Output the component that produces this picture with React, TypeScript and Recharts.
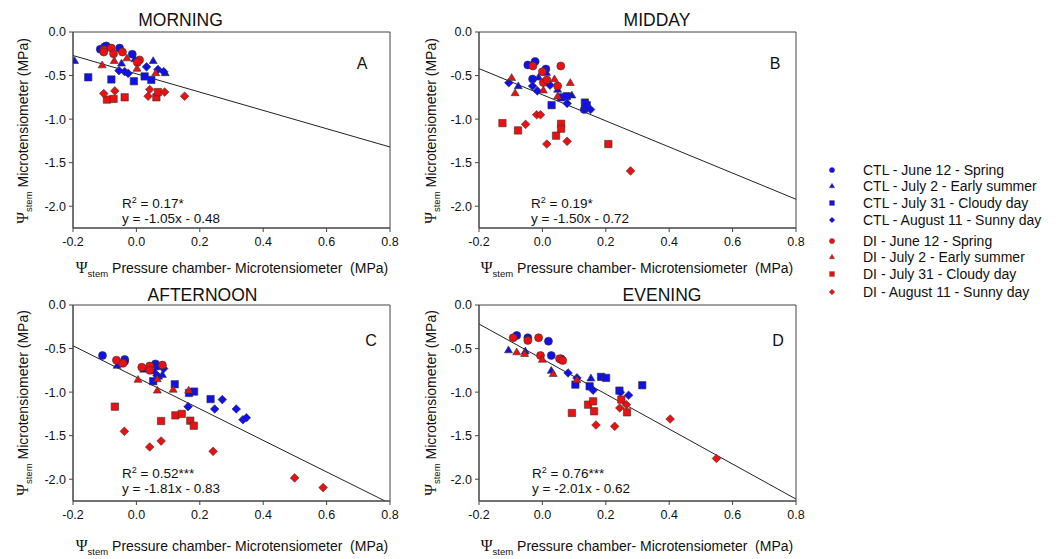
import React from 'react';
import { ScatterChart, Scatter, XAxis, YAxis, ReferenceArea, ReferenceLine } from 'recharts';

type P = [number, number];

// ---------- Series labels ----------
const seriesLabels = [
  'CTL - June 12 - Spring',
  'CTL - July 2 - Early summer',
  'CTL - July 31 - Cloudy day',
  'CTL - August 11 - Sunny day',
  'DI - June 12 - Spring',
  'DI - July 2 - Early summer',
  'DI - July 31 - Cloudy day',
  'DI - August 11 - Sunny day',
];
const seriesShapes = ['circle', 'triangle', 'square', 'diamond', 'circle', 'triangle', 'square', 'diamond'];
const seriesColors = ['#1010ee', '#1010ee', '#1010ee', '#1010ee', '#ee1010', '#ee1010', '#ee1010', '#ee1010'];

// ---------- Axis ticks ----------
const xTicks = [-0.2, 0, 0.2, 0.4, 0.6, 0.8];
const yTicks = [0, -0.5, -1.0, -1.5, -2.0];

// ---------- MORNING (A) ----------
const A_CTL_JUN: P[] = [[-0.114, -0.197], [-0.095, -0.16], [-0.053, -0.185], [-0.013, -0.255], [-0.1, -0.17]];
const A_CTL_JUL2: P[] = [[-0.195, -0.33], [-0.047, -0.36], [0.053, -0.33], [0.091, -0.47], [-0.005, -0.31]];
const A_CTL_JUL31: P[] = [[-0.152, -0.52], [-0.079, -0.545], [-0.008, -0.565], [0.026, -0.51], [0.047, -0.55]];
const A_CTL_AUG: P[] = [[-0.055, -0.444], [-0.037, -0.455], [-0.026, -0.475], [0.032, -0.4], [0.068, -0.43], [0.086, -0.455]];
const A_DI_JUN: P[] = [[-0.103, -0.205], [-0.103, -0.23], [-0.079, -0.185], [-0.072, -0.25], [-0.044, -0.23], [0.01, -0.32], [0.003, -0.35]];
const A_DI_JUL2: P[] = [[-0.108, -0.38], [-0.07, -0.33], [-0.03, -0.3], [0.002, -0.42], [0.061, -0.47]];
const A_DI_JUL31: P[] = [[-0.093, -0.776], [-0.072, -0.768], [-0.037, -0.75], [0.063, -0.75], [0.068, -0.69]];
const A_DI_AUG: P[] = [[-0.103, -0.707], [-0.068, -0.676], [0.037, -0.737], [0.042, -0.66], [0.089, -0.69], [0.152, -0.737]];

// ---------- MIDDAY (B) ----------
const B_CTL_JUN: P[] = [[-0.046, -0.378], [-0.023, -0.34], [-0.031, -0.54], [0.011, -0.425], [0.132, -0.89]];
const B_CTL_JUL2: P[] = [[-0.076, -0.62], [-0.012, -0.52], [0.013, -0.467], [0.048, -0.66], [0.093, -0.726]];
const B_CTL_JUL31: P[] = [[0.029, -0.84], [0.059, -0.75], [0.077, -0.737], [0.134, -0.81], [0.14, -0.84]];
const B_CTL_AUG: P[] = [[-0.106, -0.583], [-0.031, -0.62], [-0.016, -0.676], [0.024, -0.61], [0.078, -0.82], [0.152, -0.89]];
const B_DI_JUN: P[] = [[-0.03, -0.39], [0.0, -0.456], [0.003, -0.58], [0.014, -0.55], [0.048, -0.62], [0.058, -0.39]];
const B_DI_JUL2: P[] = [[-0.097, -0.525], [-0.086, -0.7], [0.003, -0.668], [0.038, -0.54], [0.048, -0.737], [0.088, -0.583]];
const B_DI_JUL31: P[] = [[-0.126, -1.046], [-0.077, -1.13], [0.043, -1.19], [0.059, -1.054], [0.059, -1.11], [0.208, -1.286]];
const B_DI_AUG: P[] = [[-0.053, -1.06], [-0.018, -0.95], [-0.006, -0.95], [0.014, -1.286], [0.078, -1.255], [0.278, -1.595]];

// ---------- AFTERNOON (C) ----------
const C_CTL_JUN: P[] = [[-0.107, -0.58], [-0.037, -0.626], [-0.037, -0.645], [0.06, -0.676], [0.068, -0.7]];
const C_CTL_JUL2: P[] = [[-0.061, -0.695], [0.023, -0.74], [0.058, -0.76], [0.082, -0.8], [0.07, -0.82]];
const C_CTL_JUL31: P[] = [[0.053, -0.875], [0.121, -0.91], [0.166, -1.01], [0.182, -0.994], [0.234, -1.08]];
const C_CTL_AUG: P[] = [[0.086, -0.73], [0.065, -0.81], [0.163, -1.167], [0.247, -1.194], [0.271, -1.086], [0.315, -1.194], [0.336, -1.317], [0.347, -1.294]];
const C_DI_JUN: P[] = [[-0.063, -0.633], [-0.042, -0.67], [0.017, -0.714], [0.042, -0.7], [0.042, -0.75], [0.082, -0.69]];
const C_DI_JUL2: P[] = [[0.005, -0.856], [0.066, -0.98], [0.116, -0.97], [0.165, -0.98], [0.066, -0.85]];
const C_DI_JUL31: P[] = [[-0.068, -1.167], [0.078, -1.332], [0.123, -1.267], [0.143, -1.25], [0.17, -1.328], [0.181, -1.386]];
const C_DI_AUG: P[] = [[-0.038, -1.45], [0.042, -1.63], [0.078, -1.562], [0.242, -1.68], [0.499, -1.985], [0.589, -2.096]];

// ---------- EVENING (D) ----------
const D_CTL_JUN: P[] = [[-0.081, -0.349], [-0.046, -0.376], [0.019, -0.415], [0.028, -0.58], [0.059, -0.618]];
const D_CTL_JUL2: P[] = [[-0.107, -0.518], [-0.054, -0.53], [0.028, -0.752], [0.153, -0.84]];
const D_CTL_JUL31: P[] = [[0.104, -0.914], [0.149, -0.933], [0.185, -0.825], [0.201, -0.837], [0.243, -0.983], [0.315, -0.921]];
const D_CTL_AUG: P[] = [[0.081, -0.78], [0.109, -0.837], [0.16, -0.979], [0.246, -1.002], [0.272, -1.036]];
const D_DI_JUN: P[] = [[-0.092, -0.376], [-0.046, -0.407], [-0.012, -0.376], [-0.006, -0.58], [0.054, -0.618], [0.064, -0.637]];
const D_DI_JUL2: P[] = [[-0.081, -0.541], [-0.056, -0.56], [0.0, -0.626], [0.034, -0.79], [0.109, -0.86]];
const D_DI_JUL31: P[] = [[0.093, -1.24], [0.144, -1.144], [0.16, -1.106], [0.163, -1.22], [0.249, -1.086], [0.267, -1.232]];
const D_DI_AUG: P[] = [[0.169, -1.378], [0.228, -1.393], [0.244, -1.182], [0.265, -1.144], [0.403, -1.309], [0.549, -1.762]];

// ---------- Panels ----------
const panelTitles = ['MORNING', 'MIDDAY', 'AFTERNOON', 'EVENING'];
const panelLetters = ['A', 'B', 'C', 'D'];
const panelR2 = ['0.17*', '0.19*', '0.52***', '0.76***'];
const panelSlopes = [-1.05, -1.5, -1.81, -2.01];
const panelIntercepts = [-0.48, -0.72, -0.83, -0.62];
const panelSeries: P[][][] = [
  [A_CTL_JUN, A_CTL_JUL2, A_CTL_JUL31, A_CTL_AUG, A_DI_JUN, A_DI_JUL2, A_DI_JUL31, A_DI_AUG],
  [B_CTL_JUN, B_CTL_JUL2, B_CTL_JUL31, B_CTL_AUG, B_DI_JUN, B_DI_JUL2, B_DI_JUL31, B_DI_AUG],
  [C_CTL_JUN, C_CTL_JUL2, C_CTL_JUL31, C_CTL_AUG, C_DI_JUN, C_DI_JUL2, C_DI_JUL31, C_DI_AUG],
  [D_CTL_JUN, D_CTL_JUL2, D_CTL_JUL31, D_CTL_AUG, D_DI_JUN, D_DI_JUL2, D_DI_JUL31, D_DI_AUG],
];

const X_MIN = -0.2, X_MAX = 0.8, Y_MIN = -2.25, Y_MAX = 0;

// layout
const CH_W = 400, CH_H = 262;
const panelPos = [
  { left: 0, top: 0 },
  { left: 406, top: 0 },
  { left: 0, top: 273 },
  { left: 406, top: 273 },
];
const MARGIN = { top: 32, right: 10, bottom: 1, left: 0 };
const Y_W = 73, X_H = 33; // plot height = 196

const FONT = '"Liberation Sans", Arial, sans-serif';
const AXIS_COLOR = '#444';

function markerPath(type: string, cx: number, cy: number, s: number) {
  // s = nominal width in px
  const h = s / 2;
  switch (type) {
    case 'square':
      return `M${cx - h * 0.92},${cy - h * 0.92}h${s * 0.92}v${s * 0.92}h${-s * 0.92}Z`;
    case 'triangle': {
      const th = s * 0.85;
      return `M${cx},${cy - th * 0.6}L${cx + h},${cy + th * 0.4}L${cx - h},${cy + th * 0.4}Z`;
    }
    case 'diamond': {
      const d = h * 1.08;
      return `M${cx},${cy - d}L${cx + d},${cy}L${cx},${cy + d}L${cx - d},${cy}Z`;
    }
    default:
      return '';
  }
}

function Marker({ type, cx, cy, s, fill, sw }: { type: string; cx: number; cy: number; s: number; fill: string; sw: number }) {
  if (cx == null || cy == null || isNaN(cx) || isNaN(cy)) return null;
  if (type === 'circle') {
    return <circle cx={cx} cy={cy} r={s / 2} fill={fill} stroke="#333" strokeWidth={sw} />;
  }
  return <path d={markerPath(type, cx, cy, s)} fill={fill} stroke="#333" strokeWidth={sw} strokeLinejoin="miter" />;
}

function regressionSegment(m: number, b: number) {
  let x1 = X_MIN, y1 = m * X_MIN + b;
  let x2 = X_MAX, y2 = m * X_MAX + b;
  if (y2 < Y_MIN) { y2 = Y_MIN; x2 = (Y_MIN - b) / m; }
  if (y1 > Y_MAX) { y1 = Y_MAX; x1 = (Y_MAX - b) / m; }
  return [{ x: x1, y: y1 }, { x: x2, y: y2 }];
}

function Panel({ idx }: { idx: number }) {
  const pos = panelPos[idx];
  const series = panelSeries[idx];
  return (
    <div style={{ position: 'absolute', left: pos.left, top: pos.top }}>
      <ScatterChart width={CH_W} height={CH_H} margin={MARGIN}>
        <XAxis
          type="number"
          dataKey="x"
          domain={[X_MIN, X_MAX]}
          ticks={xTicks}
          tickFormatter={(v: number) => v.toFixed(1)}
          height={X_H}
          allowDataOverflow
          stroke={AXIS_COLOR}
          tickSize={4}
          tickMargin={5}
          tick={{ fill: '#111', fontSize: 12.5, fontFamily: FONT }}
        />
        <YAxis
          type="number"
          dataKey="y"
          domain={[Y_MIN, Y_MAX]}
          ticks={yTicks}
          tickFormatter={(v: number) => v.toFixed(1)}
          width={Y_W}
          allowDataOverflow
          stroke={AXIS_COLOR}
          tickSize={4}
          tickMargin={3}
          tick={{ fill: '#111', fontSize: 12.5, fontFamily: FONT }}
        />
        <ReferenceArea x1={X_MIN} x2={X_MAX} y1={Y_MIN} y2={Y_MAX} fill="none" fillOpacity={0} stroke={AXIS_COLOR} strokeWidth={1} />
        <ReferenceLine
          segment={regressionSegment(panelSlopes[idx], panelIntercepts[idx])}
          stroke="#222"
          strokeWidth={1}
        />
        {series.map((pts, si) => (
          <Scatter
            key={si}
            name={seriesLabels[si]}
            data={pts.map(([x, y]) => ({ x, y }))}
            fill={seriesColors[si]}
            isAnimationActive={false}
            shape={(p: any) => <Marker type={seriesShapes[si]} cx={p.cx} cy={p.cy} s={8} fill={seriesColors[si]} sw={0.6} />}
          />
        ))}
      </ScatterChart>
    </div>
  );
}

// text placement (page coords)
const titlePos = [
  { x: 180.5, y: 26 },
  { x: 657, y: 26 },
  { x: 202.5, y: 301 },
  { x: 662, y: 301 },
];
const letterPos = [
  { x: 362, y: 69 },
  { x: 775, y: 69 },
  { x: 371, y: 346 },
  { x: 778, y: 346 },
];
const statPos = [
  { x: 122, y: 208 },
  { x: 531, y: 208 },
  { x: 122, y: 478 },
  { x: 532, y: 478 },
];
const xLabelPos = [
  { x: 232, y: 273 },
  { x: 637, y: 273 },
  { x: 232, y: 551 },
  { x: 637, y: 551 },
];
const yLabelPos = [
  { x: 28, y: 131 },
  { x: 436, y: 131 },
  { x: 28, y: 403 },
  { x: 436, y: 403 },
];
const legendRowY = [170, 186, 203, 220, 241, 257, 274, 292];

function Overlay() {
  return (
    <svg width={1062} height={559} style={{ position: 'absolute', left: 0, top: 0, pointerEvents: 'none' }} fontFamily={FONT}>
      {panelTitles.map((t, i) => (
        <text key={'t' + i} x={titlePos[i].x} y={titlePos[i].y} textAnchor="middle" fontSize={17.5} fill="#111">{t}</text>
      ))}
      {panelLetters.map((t, i) => (
        <text key={'l' + i} x={letterPos[i].x} y={letterPos[i].y} textAnchor="middle" fontSize={16} fill="#111">{t}</text>
      ))}
      {panelR2.map((r, i) => (
        <g key={'s' + i} fontSize={13.5} fill="#111">
          <text x={statPos[i].x} y={statPos[i].y}>
            R<tspan dy={-5} fontSize={9}>2</tspan><tspan dy={5}>{' = ' + r}</tspan>
          </text>
          <text x={statPos[i].x} y={statPos[i].y + 15}>
            {`y = ${panelSlopes[i].toFixed(2)}x - ${Math.abs(panelIntercepts[i]).toFixed(2)}`}
          </text>
        </g>
      ))}
      {xLabelPos.map((p, i) => (
        <text key={'x' + i} x={p.x} y={p.y} textAnchor="middle" fontSize={14} fill="#111">
          <tspan fontFamily='"Liberation Serif", serif' fontSize={16}>Ψ</tspan>
          <tspan dy={4} fontSize={9.5}>stem</tspan>
          <tspan dy={-4}>{' Pressure chamber- Microtensiometer\u00a0 (MPa)'}</tspan>
        </text>
      ))}
      {yLabelPos.map((p, i) => (
        <text key={'y' + i} x={0} y={0} transform={`translate(${p.x},${p.y}) rotate(-90)`} textAnchor="middle" fontSize={14} fill="#111">
          <tspan fontFamily='"Liberation Serif", serif' fontSize={16}>Ψ</tspan>
          <tspan dy={4} fontSize={9.5}>stem</tspan>
          <tspan dy={-4}>{' Microtensiometer (MPa)'}</tspan>
        </text>
      ))}
      {seriesLabels.map((lab, i) => (
        <g key={'lg' + i}>
          <Marker type={seriesShapes[i]} cx={832} cy={legendRowY[i]} s={5.2} fill={seriesColors[i]} sw={0.4} />
          <text x={863} y={legendRowY[i] + 5} fontSize={14} fill="#111">{lab}</text>
        </g>
      ))}
    </svg>
  );
}

export default function App() {
  return (
    <div style={{ position: 'absolute', left: 0, top: 0, width: 1062, height: 559, background: '#fff', fontFamily: FONT }}>
      {[0, 1, 2, 3].map((i) => <Panel key={i} idx={i} />)}
      <Overlay />
    </div>
  );
}
